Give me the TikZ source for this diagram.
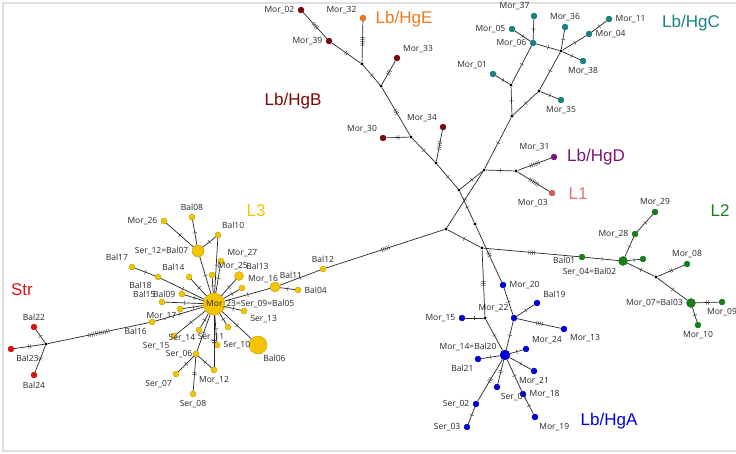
\documentclass[tikz,border=0pt]{standalone}
\usepackage{fontspec}
\setmainfont{Liberation Sans}
\newfontfamily\labfont{Open Sans}
\usepackage{tikz}

\definecolor{cL3}{RGB}{245,196,0}
\definecolor{cStr}{RGB}{222,20,20}
\definecolor{cHgB}{RGB}{125,5,5}
\definecolor{cHgE}{RGB}{240,120,30}
\definecolor{cHgC}{RGB}{20,132,132}
\definecolor{cHgD}{RGB}{122,20,122}
\definecolor{cL1}{RGB}{212,96,90}
\definecolor{cL2}{RGB}{25,128,25}
\definecolor{cHgA}{RGB}{0,0,222}

% mutation ticks on a branch
\newcommand{\mutn}[1]{\foreach \k in {1,...,#1}{\hspace{0.7pt}\rule[-2.2pt]{0.5pt}{4.4pt}\hspace{0.7pt}}}

\begin{document}
\begin{tikzpicture}[x=1pt,y=-1pt,
    hap/.style={circle,draw=#1!75!black,fill=#1,line width=0.3pt,inner sep=0pt,minimum size=6pt},
    hapmid/.style={hap=#1,minimum size=9pt},
    hapbig/.style={hap=#1,minimum size=20pt},
    med/.style={circle,fill=black,inner sep=0pt,minimum size=3.2pt},
    edge/.style={draw=black!85,line width=0.7pt},
    mut/.style={sloped,inner sep=0pt,text=black!75},
    grp/.style={font=\fontsize{17}{17}\selectfont},
    every label/.style={font=\labfont\fontsize{8.5}{10}\selectfont,text=black!85}]
  \useasboundingbox (0,0) rectangle (736,453) ;
  \draw[line width=1.5pt,black!12] (745,3) -- (3,3) -- (3,451) -- (745,451) ;

  % Str
  \node[med] (mS) at (46,344) {} ;
  \node[hap=cStr,label=above:Bal22] (Bal22) at (34,327) {} ;
  \node[hap=cStr,label=-52:Bal23] (Bal23) at (11,349) {} ;
  \node[hap=cStr,label=below:Bal24] (Bal24) at (34,375) {} ;

  % L3
  \node[hapbig=cL3,minimum size=22pt] (Mor23) at (214,304) {} ;
  \node[hapmid=cL3,minimum size=12pt,label={left:Ser\_12=Bal07}] (Bal07) at (198,251) {} ;
  \node[hap=cL3,label=left:Mor\_26] (Mor26) at (164,221) {} ;
  \node[hap=cL3,label=above:Bal08] (Bal08) at (192,217) {} ;
  \node[hap=cL3,label=80:Bal10] (Bal10) at (218,235) {} ;
  \node[hap=cL3,label=17:Mor\_27] (Mor27) at (221,261) {} ;
  \node[hap=cL3,label=39:Mor\_25] (Mor25) at (212,275) {} ;
  \node[hapmid=cL3,label=32:Bal13] (Bal13) at (239,276) {} ;
  \node[hap=cL3,label=32:Mor\_16] (Mor16) at (242,288) {} ;
  \node[hapmid=cL3,minimum size=10pt,label=75:Bal11] (Bal11) at (275,287) {} ;
  \node[hap=cL3,label=right:Bal04] (Bal04) at (298,290) {} ;
  \node[hap=cL3,label=above:Bal12] (Bal12) at (323,269) {} ;
  \node[hap=cL3,label=-18:Ser\_13] (Ser13) at (244,311) {} ;
  \node[hap=cL3,label=-95:Ser\_11] (Ser11) at (228,327) {} ;
  \node[hapbig=cL3,minimum size=18pt,label={[label distance=-2pt]-75:Bal06}] (Bal06) at (258,345) {} ;
  \node[hap=cL3,label=right:Ser\_10] (Ser10) at (217,345) {} ;
  \node[hap=cL3,label=below:Mor\_12] (Mor12) at (214,370) {} ;
  \node[hap=cL3,label={[label distance=-3pt]left:Ser\_06}] (Ser06) at (196,354) {} ;
  \node[hap=cL3,label=below:Ser\_08] (Ser08) at (193,394) {} ;
  \node[hap=cL3,label=-100:Ser\_07] (Ser07) at (176,374) {} ;
  \node[hap=cL3,label=-110:Ser\_15] (Ser15) at (174,336) {} ;
  \node[hap=cL3,label={[label distance=-2pt]-105:Ser\_14}] (Ser14) at (199,330) {} ;
  \node[hap=cL3,label=-121:Bal16] (Bal16) at (152,322) {} ;
  \node[hap=cL3,label={[label distance=-3pt]188:Mor\_17}] (Mor17) at (180,309) {} ;
  \node[hap=cL3,label=172:Bal15] (Bal15) at (162,302) {} ;
  \node[hap=cL3,label=left:Bal09] (Bal09) at (182,294) {} ;
  \node[hap=cL3,label=-157:Bal18] (Bal18) at (158,277) {} ;
  \node[hap=cL3,label=100:Bal17] (Bal17) at (132,267) {} ;
  \node[hap=cL3,label=110:Bal14] (Bal14) at (189,277) {} ;

  % Lb/HgB and Lb/HgE
  \node[hap=cHgB,label=left:Mor\_02] (Mor02) at (301,10) {} ;
  \node[hap=cHgB,label=left:Mor\_39] (Mor39) at (329,41) {} ;
  \node[med] (mB1) at (362,64) {} ;
  \node[hap=cHgE,label=170:Mor\_32] (Mor32) at (363,18) {} ;
  \node[med] (mB2) at (381,86) {} ;
  \node[hap=cHgB,label=35:Mor\_33] (Mor33) at (397,58) {} ;
  \node[med] (mB3) at (411,137) {} ;
  \node[hap=cHgB,label=144:Mor\_30] (Mor30) at (383,138) {} ;
  \node[med] (mB4) at (436,163) {} ;
  \node[hap=cHgB,label=144:Mor\_34] (Mor34) at (443,127) {} ;

  % medians in the middle
  \node[med] (mX1) at (459,190) {} ;
  \node[med] (mD) at (484,170) {} ;
  \node[med] (mF) at (516,171) {} ;
  \node[med] (mC) at (446,229) {} ;
  \node[med] (mY) at (475,224) {} ;
  \node[med] (mE) at (482,248) {} ;

  % Lb/HgD, L1
  \node[hap=cHgD,label=110:Mor\_31] (Mor31) at (554,157) {} ;
  \node[hap=cL1,label=-105:Mor\_03] (Mor03) at (552,193) {} ;

  % Lb/HgC
  \node[med] (mC1) at (512,116) {} ;
  \node[med] (mC2) at (511,85) {} ;
  \node[med] (mC3) at (539,91) {} ;
  \node[med] (mC4) at (561,51) {} ;
  \node[hap=cHgC,label=140:Mor\_01] (Mor01) at (493,74) {} ;
  \node[hap=cHgC,label=left:Mor\_06] (Mor06) at (533,43) {} ;
  \node[hap=cHgC,label=left:Mor\_05] (Mor05) at (512,29) {} ;
  \node[hap=cHgC,label=110:Mor\_37] (Mor37) at (534,16) {} ;
  \node[hap=cHgC,label=above:Mor\_36] (Mor36) at (565,27) {} ;
  \node[hap=cHgC,label=right:Mor\_04] (Mor04) at (589,34) {} ;
  \node[hap=cHgC,label=right:Mor\_11] (Mor11) at (609,19) {} ;
  \node[hap=cHgC,label=below:Mor\_38] (Mor38) at (583,61) {} ;
  \node[hap=cHgC,label=below:Mor\_35] (Mor35) at (561,100) {} ;

  % L2
  \node[hap=cL2,label={[yshift=-3pt]left:Bal01}] (Bal01) at (582,257) {} ;
  \node[hapmid=cL2,label={-135:Ser\_04=Bal02}] (Bal02) at (623,261) {} ;
  \node[hap=cL2] (L2x) at (643,259) {} ;
  \node[hap=cL2,label=left:Mor\_28] (Mor28) at (635,234) {} ;
  \node[hap=cL2,label=above:Mor\_29] (Mor29) at (655,212) {} ;
  \node[med] (mL2) at (656,277) {} ;
  \node[hap=cL2,label=above:Mor\_08] (Mor08) at (687,264) {} ;
  \node[hapmid=cL2,label={left:Mor\_07=Bal03}] (Bal03) at (691,303) {} ;
  \node[hap=cL2,label=below:Mor\_09] (Mor09) at (722,302) {} ;
  \node[hap=cL2,label=below:Mor\_10] (Mor10) at (698,325) {} ;

  % Lb/HgA
  \node[hap=cHgA,label=right:Mor\_20] (Mor20) at (503,285) {} ;
  \node[hap=cHgA,label=27:Bal19] (Bal19) at (537,303) {} ;
  \node[hap=cHgA,label=130:Mor\_22] (Mor22) at (514,318) {} ;
  \node[hap=cHgA,label=-35:Mor\_13] (Mor13) at (564,329) {} ;
  \node[med] (mA1) at (485,318) {} ;
  \node[hap=cHgA,label=left:Mor\_15] (Mor15) at (462,318) {} ;
  \node[hapmid=cHgA,minimum size=10pt,label={170:Mor\_14=Bal20}] (Bal20) at (505,355) {} ;
  \node[hap=cHgA,label=-110:Bal21] (Bal21) at (478,359) {} ;
  \node[hap=cHgA,label=38:Mor\_24] (Mor24) at (526,349) {} ;
  \node[hap=cHgA,label=below:Mor\_21] (Mor21) at (534,371) {} ;
  \node[hap=cHgA,label=right:Mor\_18] (Mor18) at (523,394) {} ;
  \node[hap=cHgA,label=-75:Mor\_19] (Mor19) at (535,417) {} ;
  \node[hap=cHgA,label=-82:Ser\_01] (Ser01) at (497,387) {} ;
  \node[hap=cHgA,label=left:Ser\_02] (Ser02) at (476,404) {} ;
  \node[hap=cHgA,label=left:Ser\_03] (Ser03) at (467,427) {} ;

  % branches: from/to/number of mutations
  \foreach \a/\b/\n in {mS/Bal16/12,mS/Bal22/1,mS/Bal23/2,mS/Bal24/2,
      Bal16/Mor23/1,Mor17/Mor23/1,Bal15/Mor23/1,Bal09/Mor23/1,Bal17/Bal18/1,
      Bal18/Mor23/1,Bal14/Mor23/1,Mor26/Bal07/1,Bal08/Bal07/1,Bal10/Bal07/1,
      Bal07/Mor23/1,Bal10/Mor23/1,Mor27/Mor23/1,Mor25/Mor23/1,Bal13/Mor23/1,
      Mor16/Mor23/1,Mor23/Bal11/1,Bal11/Bal04/1,Bal11/Bal12/1,Ser13/Mor23/1,
      Ser11/Mor23/1,Bal06/Mor23/1,Ser10/Mor23/1,Mor23/Mor12/2,Mor23/Ser06/1,
      Ser06/Ser07/1,Ser06/Ser08/2,Ser06/Mor12/1,Ser14/Mor23/1,Ser15/Mor23/1,
      Bal12/mC/5,
      Mor02/Mor39/4,Mor39/mB1/2,Mor32/mB1/5,mB1/mB2/1,mB2/Mor33/3,mB2/mB3/3,
      mB3/Mor30/2,mB3/mB4/1,mB4/Mor34/5,mB4/mX1/1,
      mX1/mD/1,mX1/mY/1,mC/mD/1,mC/mE/1,mD/mF/1,mF/Mor31/6,mF/Mor03/6,
      mD/mC1/1,mC1/mC2/1,mC1/mC3/1,mC2/Mor01/1,mC2/Mor06/1,Mor06/Mor05/1,
      Mor06/Mor37/1,Mor06/mC4/1,mC4/Mor36/1,mC4/Mor04/1,Mor04/Mor11/1,
      mC4/Mor38/1,mC4/mC3/1,mC3/Mor35/1,
      mE/Bal01/4,Bal01/Bal02/1,Bal02/L2x/1,Bal02/Mor28/1,Mor28/Mor29/1,
      Bal02/mL2/1,mL2/Mor08/2,mL2/Bal03/1,Bal03/Mor09/2,Bal03/Mor10/1,
      mY/Mor20/3,Mor20/Mor22/1,Mor22/Bal19/1,Mor22/Mor13/4,Mor22/Bal20/1,
      mE/mA1/3,mA1/Mor15/1,mA1/Bal20/1,Bal20/Mor24/1,Bal20/Mor21/1,
      Bal20/Bal21/1,Bal20/Ser01/2,Bal20/Ser02/3,Ser02/Ser03/1,
      Bal20/Mor18/1,Mor18/Mor19/1}
    \draw[edge] (\a) -- node[mut]{\mutn{\n}} (\b) ;

  \node[anchor=west,inner sep=0pt,font=\labfont\fontsize{8.5}{10}\selectfont,text=black!85] %
    (tMor23) at (206,304) {Mor\_23=Ser\_09=Bal05} ;

  % haplogroup names
  \node[grp,text=cStr] (gStr) at (22,290) {Str} ;
  \node[grp,text=cL3] (gL3) at (256,211) {L3} ;
  \node[grp,text=cHgE] (gHgE) at (404,19) {Lb/HgE} ;
  \node[grp,text=cHgB] (gHgB) at (293,101) {Lb/HgB} ;
  \node[grp,text=cHgC] (gHgC) at (691,23) {Lb/HgC} ;
  \node[grp,text=cHgD] (gHgD) at (596,157) {Lb/HgD} ;
  \node[grp,text=cL1!85!white] (gL1) at (578,194) {L1} ;
  \node[grp,text=cL2] (gL2) at (720,211) {L2} ;
  \node[grp,text=cHgA] (gHgA) at (609,421) {Lb/HgA} ;
\end{tikzpicture}
\end{document}
